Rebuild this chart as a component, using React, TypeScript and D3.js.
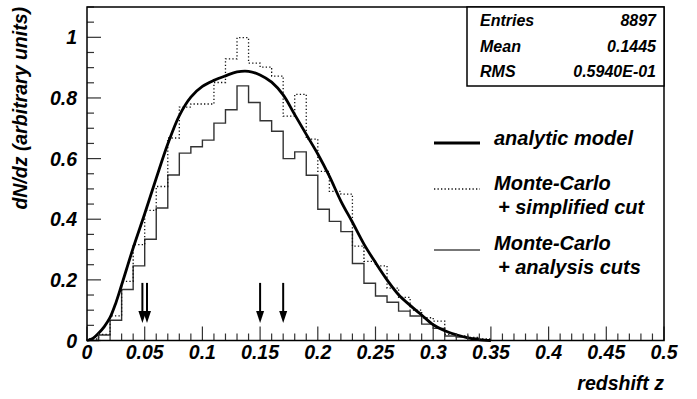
import React from "react";
import * as d3 from "d3";

// histogram bins (lower edges), width 0.01 in redshift
const binWidth = 0.01;
const binLow = [
  0, 0.01, 0.02, 0.03, 0.04, 0.05, 0.06, 0.07, 0.08, 0.09, 0.1, 0.11, 0.12,
  0.13, 0.14, 0.15, 0.16, 0.17, 0.18, 0.19, 0.2, 0.21, 0.22, 0.23, 0.24, 0.25,
  0.26, 0.27, 0.28, 0.29, 0.3, 0.31, 0.32, 0.33, 0.34,
];

// Monte-Carlo + analysis cuts (solid)
const mcAnalysis = [
  0, 0.018, 0.067, 0.168, 0.246, 0.334, 0.437, 0.546, 0.618, 0.639, 0.661,
  0.717, 0.761, 0.84, 0.785, 0.725, 0.69, 0.6, 0.622, 0.545, 0.433, 0.393,
  0.359, 0.254, 0.189, 0.147, 0.126, 0.097, 0.081, 0.054, 0.04, 0.015, 0.011,
  0.008, 0,
];

// Monte-Carlo + simplified cut (dotted)
const mcSimplified = [
  0.005, 0.02, 0.081, 0.195, 0.316, 0.429, 0.508, 0.668, 0.77, 0.78, 0.78,
  0.851, 0.929, 0.999, 0.915, 0.902, 0.872, 0.74, 0.812, 0.664, 0.558, 0.492,
  0.483, 0.311, 0.261, 0.246, 0.173, 0.142, 0.1, 0.075, 0.064, 0.02, 0.015,
  0.01, 0.005,
];

// analytic model
const modelZ = [
  0, 0.005, 0.01, 0.015, 0.02, 0.025, 0.03, 0.04, 0.05, 0.06, 0.07, 0.08, 0.09,
  0.1, 0.11, 0.12, 0.13, 0.14, 0.15, 0.16, 0.17, 0.18, 0.19, 0.2, 0.21, 0.22,
  0.23, 0.24, 0.25, 0.26, 0.27, 0.28, 0.29, 0.3, 0.31, 0.32, 0.33, 0.34, 0.35,
];
const modelN = [
  0, 0.007, 0.024, 0.046, 0.076, 0.124, 0.183, 0.305, 0.418, 0.535, 0.648,
  0.742, 0.803, 0.838, 0.858, 0.873, 0.886, 0.888, 0.876, 0.852, 0.81, 0.745,
  0.68, 0.615, 0.542, 0.46, 0.39, 0.318, 0.257, 0.2, 0.151, 0.116, 0.084,
  0.052, 0.032, 0.019, 0.009, 0.003, 0,
];

// cut positions marked with arrows
const arrowZ = [0.048, 0.052, 0.15, 0.17];
const arrowTop = 0.19;
const arrowTip = 0.058;

const xTicks = [0, 0.05, 0.1, 0.15, 0.2, 0.25, 0.3, 0.35, 0.4, 0.45, 0.5];
const xTickLabels = ["0", "0.05", "0.1", "0.15", "0.2", "0.25", "0.3", "0.35", "0.4", "0.45", "0.5"];
const yTicks = [0, 0.2, 0.4, 0.6, 0.8, 1];
const yTickLabels = ["0", "0.2", "0.4", "0.6", "0.8", "1"];

const statNames = ["Entries", "Mean", "RMS"];
const statValues = ["8897", "0.1445", "0.5940E-01"];

const W = 697;
const H = 399;
const left = 87;
const right = 664;
const top = 7;
const bottom = 340.5;
const font = "'Liberation Sans', Arial, Helvetica, sans-serif";

function histPath(values: number[], x: any, y: any) {
  const pts: [number, number][] = [[0, 0]];
  values.forEach((v, i) => pts.push([binLow[i], v]));
  pts.push([binLow[binLow.length - 1] + binWidth, 0]);
  return d3
    .line<[number, number]>()
    .x((d) => x(d[0]))
    .y((d) => y(d[1]))
    .curve(d3.curveStepAfter)(pts) as string;
}

export default function App() {
  const x = d3.scaleLinear().domain([0, 0.5]).range([left, right]);
  const y = d3.scaleLinear().domain([0, 1.1]).range([bottom, top]);

  const modelLine = d3
    .line<number>()
    .x((d, i) => x(modelZ[i]))
    .y((d) => y(d))
    .curve(d3.curveCatmullRom.alpha(0.5));

  const xMinor = d3.range(0, 0.5001, 0.01);
  const yMinor = d3.range(0, 1.1001, 0.05);

  const textStyle = {
    fontFamily: font,
    fontWeight: 700,
    fontStyle: "italic" as const,
  };

  return (
    <div style={{ position: "absolute", left: 0, top: 0 }}>
      <svg width={W} height={H} style={{ display: "block", background: "#fff" }}>
        {/* histograms */}
        <path d={histPath(mcAnalysis, x, y)} fill="none" stroke="#333" strokeWidth={1.4} />
        <path
          d={histPath(mcSimplified, x, y)}
          fill="none"
          stroke="#111"
          strokeWidth={1.3}
          strokeDasharray="1.3,2.2"
        />
        <path d={modelLine(modelN) as string} fill="none" stroke="#000" strokeWidth={2.8} strokeLinejoin="round" />

        {/* arrows */}
        {arrowZ.map((z, i) => (
          <g key={i}>
            <line x1={x(z)} x2={x(z)} y1={y(arrowTop)} y2={y(arrowTip) - 8} stroke="#000" strokeWidth={2} />
            <path
              d={`M${x(z) - 4},${y(arrowTip) - 12} L${x(z) + 4},${y(arrowTip) - 12} L${x(z)},${y(arrowTip)} Z`}
              fill="#000"
            />
          </g>
        ))}

        {/* ticks */}
        {xMinor.map((t, i) => {
          const major = i % 5 === 0;
          return (
            <line key={"xt" + i} x1={x(t)} x2={x(t)} y1={bottom} y2={bottom - (major ? 14 : 7)} stroke="#333" strokeWidth={1.2} />
          );
        })}
        {yMinor.map((t, i) => {
          const major = i % 4 === 0;
          return (
            <line key={"yt" + i} x1={left} x2={left + (major ? 14 : 7)} y1={y(t)} y2={y(t)} stroke="#333" strokeWidth={1.2} />
          );
        })}

        {/* frame */}
        <rect x={left} y={top} width={right - left} height={bottom - top} fill="none" stroke="#000" strokeWidth={1.5} />

        {/* tick labels */}
        {xTicks.map((t, i) => (
          <text key={"xl" + i} x={x(t)} y={359} textAnchor="middle" fontSize={19.5} {...textStyle}>
            {xTickLabels[i]}
          </text>
        ))}
        {yTicks.map((t, i) => (
          <text key={"yl" + i} x={77} y={y(t) + 7} textAnchor="end" fontSize={19.5} {...textStyle}>
            {yTickLabels[i]}
          </text>
        ))}

        {/* axis titles */}
        <text x={right} y={390} textAnchor="end" fontSize={19.5} {...textStyle}>
          redshift z
        </text>
        <text
          transform={`translate(27,${top}) rotate(-90)`}
          textAnchor="end"
          fontSize={19.5}
          {...textStyle}
        >
          dN/dz (arbitrary units)
        </text>

        {/* stats box */}
        <rect x={467} y={top} width={right - 467} height={79} fill="#fff" stroke="#000" strokeWidth={1.5} />
        {statNames.map((n, i) => (
          <g key={n}>
            <text x={480} y={26 + i * 25.5} fontSize={16} {...textStyle}>
              {n}
            </text>
            <text x={656} y={26 + i * 25.5} textAnchor="end" fontSize={16} {...textStyle}>
              {statValues[i]}
            </text>
          </g>
        ))}

        {/* legend */}
        <line x1={434} x2={480} y1={143} y2={143} stroke="#000" strokeWidth={2.8} />
        <text x={494} y={145} fontSize={20} {...textStyle}>
          analytic model
        </text>
        <line x1={434} x2={480} y1={189} y2={189} stroke="#111" strokeWidth={1.3} strokeDasharray="1.3,2.2" />
        <text x={494} y={190} fontSize={20} {...textStyle}>
          Monte-Carlo
        </text>
        <text x={498} y={214} fontSize={20} {...textStyle}>
          + simplified cut
        </text>
        <line x1={434} x2={480} y1={250} y2={250} stroke="#777" strokeWidth={2} />
        <text x={494} y={250} fontSize={20} {...textStyle}>
          Monte-Carlo
        </text>
        <text x={498} y={274} fontSize={20} {...textStyle}>
          + analysis cuts
        </text>
      </svg>
    </div>
  );
}
